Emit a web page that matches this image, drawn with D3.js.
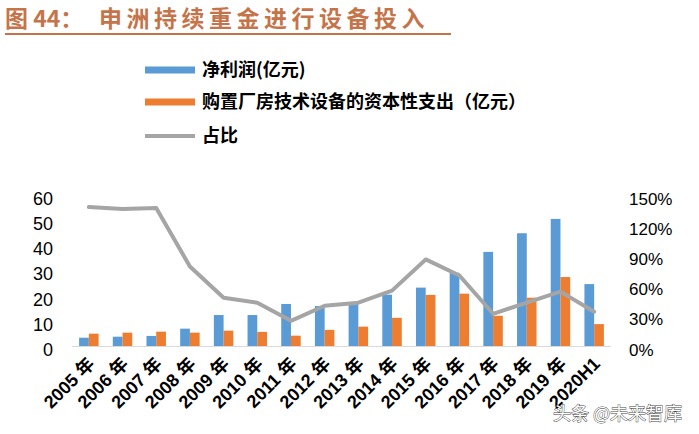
<!DOCTYPE html>
<html><head><meta charset="utf-8">
<script src="https://cdn.jsdelivr.net/npm/d3@7/dist/d3.min.js"></script>
<style>
html,body{margin:0;padding:0;background:#fff;}
svg{display:block;font-family:"Liberation Sans","Noto Sans CJK SC",Arial,sans-serif;}
</style></head>
<body>
<svg id="c" width="699" height="434"></svg>
<script>
const categories = ["2005年","2006年","2007年","2008年","2009年","2010年","2011年","2012年","2013年","2014年","2015年","2016年","2017年","2018年","2019年","2020H1"];
const netProfit = [3.3,3.7,4.0,6.9,12.3,12.3,16.7,15.9,17.0,20.4,23.2,29.1,37.4,44.8,50.5,24.6];
const capex =     [4.9,5.3,5.7,5.3,6.1,5.6,4.1,6.4,7.7,11.2,20.3,20.8,12.0,19.2,27.4,8.7];
const ratio =     [138,136,137,79,48,43,25,40,43,55,86,70,32,43,54,34];
const leftTicks = [0,10,20,30,40,50,60];
const rightTicks = [0,30,60,90,120,150];
const seriesNames = ["净利润(亿元)","购置厂房技术设备的资本性支出（亿元）","占比"];
const colors = ["#5b9bd5","#ed7d31","#a5a5a5"];

const svg = d3.select("#c");
const titleColor = "#c5744a";

// title
svg.append("text").attr("x",5).attr("y",27).attr("font-size",23).attr("font-weight","bold")
  .attr("fill",titleColor).attr("font-family","'Noto Sans CJK SC','Liberation Sans',sans-serif").text("图 44：");
svg.append("text").attr("x",99).attr("y",27).attr("font-size",23).attr("font-weight","bold")
  .attr("letter-spacing",4.5).attr("fill",titleColor).attr("font-family","'Noto Sans CJK SC',sans-serif").text("申洲持续重金进行设备投入");
svg.append("line").attr("x1",5).attr("x2",451).attr("y1",34).attr("y2",34).attr("stroke",titleColor).attr("stroke-width",2);

const x0 = d3.scaleBand().domain(categories).range([72,611]).padding(0);
const x1 = d3.scaleBand().domain(["np","cx"]).range([0,x0.bandwidth()]).paddingInner(0).paddingOuter(0.73);
const yL = d3.scaleLinear().domain([0,60]).range([346,195]);
const yR = d3.scaleLinear().domain([0,150]).range([346,195]);

// baseline
svg.append("line").attr("x1",72).attr("x2",611).attr("y1",346.5).attr("y2",346.5).attr("stroke","#d9d9d9").attr("stroke-width",1);

// bars
const g = svg.append("g");
g.selectAll("rect.np").data(netProfit).join("rect").attr("class","np")
  .attr("x",(d,i)=>x0(categories[i])+x1("np")).attr("width",x1.bandwidth())
  .attr("y",d=>yL(d)).attr("height",d=>yL(0)-yL(d)).attr("fill",colors[0]);
g.selectAll("rect.cx").data(capex).join("rect").attr("class","cx")
  .attr("x",(d,i)=>x0(categories[i])+x1("cx")).attr("width",x1.bandwidth())
  .attr("y",d=>yL(d)).attr("height",d=>yL(0)-yL(d)).attr("fill",colors[1]);

// line
const line = d3.line().x((d,i)=>x0(categories[i])+x0.bandwidth()/2).y(d=>yR(d));
svg.append("path").datum(ratio).attr("d",line).attr("fill","none").attr("stroke",colors[2])
  .attr("stroke-width",4).attr("stroke-linejoin","round").attr("stroke-linecap","round");

// axes
const axL = svg.append("g").attr("transform","translate(72,0)")
  .call(d3.axisLeft(yL).tickValues(leftTicks).tickSize(0).tickPadding(19));
axL.select(".domain").remove();
axL.selectAll("text").attr("font-size",18).attr("fill","#000").attr("dy","0.36em")
  .attr("font-family","'Liberation Sans',Arial,sans-serif").attr("transform","translate(0,3)");

const axR = svg.append("g").attr("transform","translate(611,0)")
  .call(d3.axisRight(yR).tickValues(rightTicks).tickSize(0).tickPadding(18).tickFormat(d=>d+"%"));
axR.select(".domain").remove();
axR.selectAll("text").attr("font-size",17).attr("fill","#000").attr("dy","0.36em")
  .attr("font-family","'Liberation Sans',Arial,sans-serif").attr("transform","translate(0,3)");

// x labels
const xl = svg.append("g");
categories.forEach((c,i)=>{
  const cx = x0(c)+x0.bandwidth()/2;
  const label = c.replace("年"," 年");
  xl.append("text").attr("transform",`translate(${cx+7},${365}) rotate(-45)`)
    .attr("text-anchor","end").attr("font-size",18).attr("font-weight","bold").attr("fill","#000")
    .text(label);
});

// legend
const lg = svg.append("g").attr("font-family","'Noto Sans CJK SC','Liberation Sans',sans-serif");
const rows = [70,102,136];
lg.append("rect").attr("x",145).attr("y",rows[0]-3.5).attr("width",50).attr("height",7).attr("fill",colors[0]);
lg.append("rect").attr("x",145).attr("y",rows[1]-3.5).attr("width",50).attr("height",7).attr("fill",colors[1]);
lg.append("line").attr("x1",145).attr("x2",195).attr("y1",rows[2]).attr("y2",rows[2]).attr("stroke",colors[2]).attr("stroke-width",4);
seriesNames.forEach((n,i)=>{
  lg.append("text").attr("x",202).attr("y",rows[i]).attr("dy","0.36em").attr("font-size",18)
    .attr("font-weight","bold").attr("fill","#000").text(n);
});

// watermark
svg.append("text").attr("x",553).attr("y",420).attr("font-size",18)
  .attr("font-family","'Noto Sans CJK SC',sans-serif")
  .attr("fill","#fff").attr("stroke","#444").attr("stroke-width",0.9).attr("paint-order","stroke")
  .text("头条 @未来智库");
</script>
</body></html>
